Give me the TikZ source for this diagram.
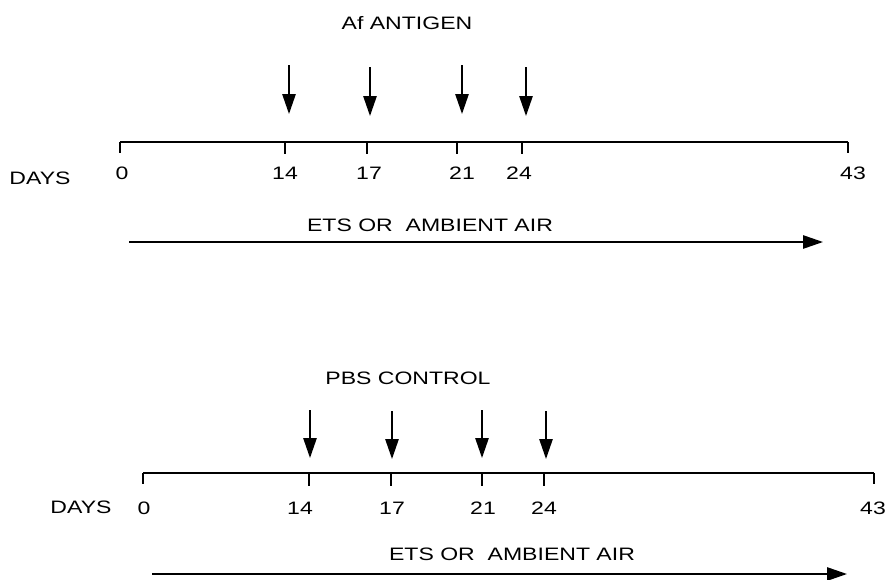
\documentclass[tikz,border=0pt]{standalone}
\usepackage{fontspec}
\setmainfont{Liberation Sans}[FakeStretch=1.28]
\usetikzlibrary{arrows.meta}

\begin{document}
\begin{tikzpicture}[
  x=0.75pt,y=-0.75pt,
  lbl/.style={font=\fontsize{13.5}{16}\selectfont,inner sep=0pt},
  axis/.style={line width=1.3pt},
  tickmark/.style={line width=1.3pt},
  inject/.style={-{Triangle[length=15pt,width=10pt]},line width=1.3pt},
  expo/.style={-{Triangle[length=15pt,width=10pt]},line width=1.3pt}
]
\useasboundingbox (0,0) rectangle (889,579);

% upper timeline: antigen group
\node[lbl] (titleA) at (407,23) {Af ANTIGEN};
\coordinate (A0) at (120,142);
\coordinate (A43) at (848,142);
\draw[axis] (A0) -- (A43);
\coordinate (A14) at (285,142);
\coordinate (A17) at (367,142);
\coordinate (A21) at (457,142);
\coordinate (A24) at (522,142);
\draw[tickmark] (A0) -- ++(0,11);
\draw[tickmark] (A14) -- ++(0,12);
\draw[tickmark] (A17) -- ++(0,12);
\draw[tickmark] (A21) -- ++(0,12);
\draw[tickmark] (A24) -- ++(0,12);
\draw[tickmark] (A43) -- ++(0,11);
\node[lbl] (daysA) at (40,178) {DAYS};
\node[lbl] (dA0) at (122,173) {0};
\node[lbl] (dA14) at (285,173) {14};
\node[lbl] (dA17) at (369,173) {17};
\node[lbl] (dA21) at (462,173) {21};
\node[lbl] (dA24) at (519,173) {24};
\node[lbl] (dA43) at (853,173) {43};
\coordinate (iA14s) at (289,65);  \coordinate (iA14e) at (289,114);
\coordinate (iA17s) at (370,67);  \coordinate (iA17e) at (370,116);
\coordinate (iA21s) at (462,65);  \coordinate (iA21e) at (462,114);
\coordinate (iA24s) at (526,67);  \coordinate (iA24e) at (526,116);
\draw[inject] (iA14s) -- (iA14e);
\draw[inject] (iA17s) -- (iA17e);
\draw[inject] (iA21s) -- (iA21e);
\draw[inject] (iA24s) -- (iA24e);
\node[lbl] (expoA) at (430,225) {ETS OR\ \ AMBIENT AIR};
\coordinate (eAs) at (129,242);
\coordinate (eAe) at (823,242);
\draw[expo] (eAs) -- (eAe);

% lower timeline: PBS group
\node[lbl] (titleB) at (408,378) {PBS CONTROL};
\coordinate (B0) at (143,473);
\coordinate (B43) at (874,473);
\draw[axis] (B0) -- (B43);
\coordinate (B14) at (309,473);
\coordinate (B17) at (391,473);
\coordinate (B21) at (482,473);
\coordinate (B24) at (544,473);
\draw[tickmark] (B0) -- ++(0,11);
\draw[tickmark] (B14) -- ++(0,13);
\draw[tickmark] (B17) -- ++(0,13);
\draw[tickmark] (B21) -- ++(0,13);
\draw[tickmark] (B24) -- ++(0,13);
\draw[tickmark] (B43) -- ++(0,11);
\node[lbl] (daysB) at (81,507) {DAYS};
\node[lbl] (dB0) at (144,508) {0};
\node[lbl] (dB14) at (300,508) {14};
\node[lbl] (dB17) at (392,508) {17};
\node[lbl] (dB21) at (483,508) {21};
\node[lbl] (dB24) at (544,508) {24};
\node[lbl] (dB43) at (873,508) {43};
\coordinate (iB14s) at (310,410); \coordinate (iB14e) at (310,458);
\coordinate (iB17s) at (392,411); \coordinate (iB17e) at (392,459);
\coordinate (iB21s) at (482,410); \coordinate (iB21e) at (482,458);
\coordinate (iB24s) at (546,411); \coordinate (iB24e) at (546,459);
\draw[inject] (iB14s) -- (iB14e);
\draw[inject] (iB17s) -- (iB17e);
\draw[inject] (iB21s) -- (iB21e);
\draw[inject] (iB24s) -- (iB24e);
\node[lbl] (expoB) at (512,554) {ETS OR\ \ AMBIENT AIR};
\coordinate (eBs) at (152,574);
\coordinate (eBe) at (847,574);
\draw[expo] (eBs) -- (eBe);
\end{tikzpicture}
\end{document}
